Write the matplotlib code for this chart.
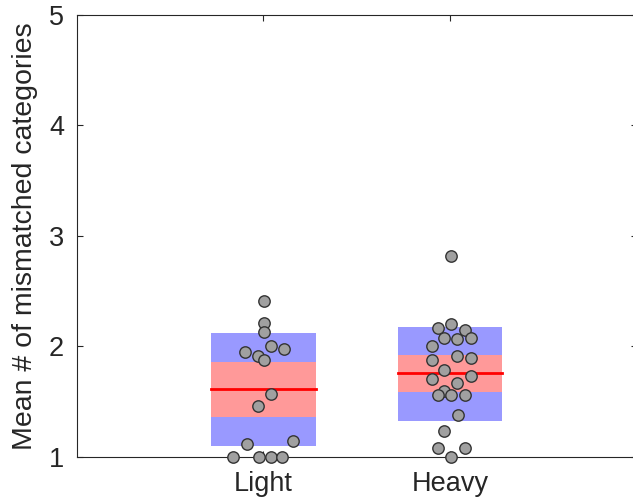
import matplotlib.pyplot as plt

plt.rcParams['font.family'] = ['Liberation Sans', 'DejaVu Sans']

groups = ["Light", "Heavy"]
positions = [1, 2]

# per-subject values and horizontal jitter (data units)
light_vals = [2.415, 2.21, 2.13, 1.95, 2.00, 1.98, 1.91, 1.88, 1.57, 1.46,
              1.115, 1.145, 1.0, 1.0, 1.0, 1.0]
light_jit = [0.005, 0.005, 0.005, -0.10, 0.04, 0.11, -0.03, 0.005, 0.04, -0.03,
             -0.09, 0.16, -0.16, -0.025, 0.04, 0.10]
heavy_vals = [2.82, 2.17, 2.20, 2.15, 2.08, 2.065, 2.08, 2.00, 1.88, 1.91,
              1.90, 1.79, 1.71, 1.73, 1.67, 1.60, 1.56, 1.56, 1.56, 1.38,
              1.235, 1.085, 1.085, 1.0]
heavy_jit = [0.005, -0.066, 0.005, 0.08, -0.03, 0.04, 0.11, -0.097, -0.097, 0.04,
             0.11, -0.03, -0.097, 0.11, 0.04, -0.03, -0.066, 0.005, 0.08, 0.045,
             -0.03, -0.066, 0.08, 0.005]

# summary stats: mean, 95% CI, SD
means = [1.615, 1.76]
ci_lo = [1.36, 1.59]
ci_hi = [1.86, 1.92]
sd_lo = [1.10, 1.33]
sd_hi = [2.12, 2.18]

values = [light_vals, heavy_vals]
jitter = [light_jit, heavy_jit]

fig = plt.figure(figsize=(6.33, 4.98), dpi=100)
ax = fig.add_axes([76.7 / 633, 41 / 498, 560 / 633, 442 / 498])

hw = 0.28
for i, p in enumerate(positions):
    ax.fill_between([p - hw, p + hw], sd_lo[i], sd_hi[i], color='#9999ff', lw=0, zorder=1)
    ax.fill_between([p - hw, p + hw], ci_lo[i], ci_hi[i], color='#ff9999', lw=0, zorder=2)
    ax.plot([p - hw, p + hw], [means[i], means[i]], color='red', lw=2, zorder=3)
    xs = [p + j for j in jitter[i]]
    ax.plot(xs, values[i], 'o', ms=8.2, mfc='#a0a0a0', mec='#333333', mew=1.0,
            clip_on=False, zorder=4)

ax.set_xlim(0, 3)
ax.set_ylim(1, 5)
ax.set_xticks(positions)
ax.set_xticklabels(groups)
ax.set_yticks([1, 2, 3, 4, 5])
ax.tick_params(direction='in', top=True, right=True, length=4, width=0.8,
               labelsize=19.5, colors='#262626')
ax.tick_params(axis='x', pad=10)
ax.tick_params(axis='y', pad=9)
for s in ax.spines.values():
    s.set_color('#262626')
    s.set_linewidth(0.8)
ax.set_ylabel("Mean # of mismatched categories", fontsize=20.5, color='#262626', labelpad=8)

fig.savefig("out.png", dpi=100)
